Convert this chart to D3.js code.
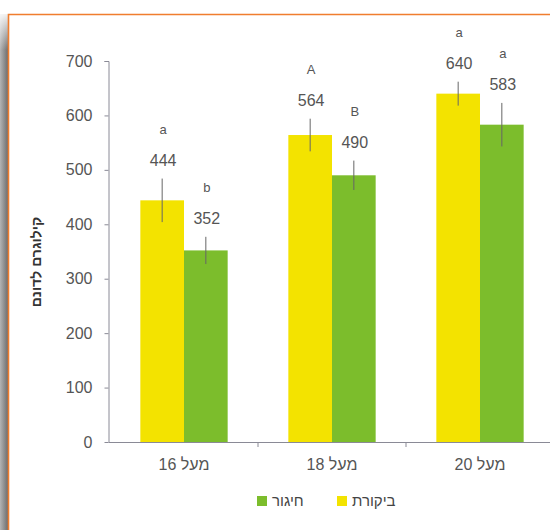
<!DOCTYPE html>
<html><head><meta charset="utf-8">
<script src="https://cdn.jsdelivr.net/npm/d3@7"></script>
<style>body{margin:0;background:#fff}svg{display:block}</style>
</head><body>
<script>
const categories = ["מעל 16", "מעל 18", "מעל 20"];
const seriesNames = ["ביקורת", "חיגור"];
const controlValues = [444, 564, 640];
const girdlingValues = [352, 490, 583];
const controlErrors = [40, 30, 22];
const girdlingErrors = [25, 27, 40];
const controlLetters = ["a", "A", "a"];
const girdlingLetters = ["b", "B", "a"];
const yTicks = [0, 100, 200, 300, 400, 500, 600, 700];
const yLabel = "קילוגרם לדונם";

const colors = {"ביקורת": "#f3e300", "חיגור": "#7cbd2c"};
const W = 550, H = 530;
const svg = d3.select("body").append("svg").attr("width", W).attr("height", H);

// frame shadow + orange border
const defs = svg.append("defs");
const g1 = defs.append("linearGradient").attr("id", "sh").attr("x1", 0).attr("x2", 1).attr("y1", 0).attr("y2", 0);
g1.append("stop").attr("offset", 0).attr("stop-color", "#b4b4b4");
g1.append("stop").attr("offset", 1).attr("stop-color", "#6c6c6c");
const g2 = defs.append("linearGradient").attr("id", "fade").attr("x1", 0).attr("x2", 0).attr("y1", 0).attr("y2", 1);
g2.append("stop").attr("offset", 0).attr("stop-color", "#fff").attr("stop-opacity", 1);
g2.append("stop").attr("offset", 1).attr("stop-color", "#fff").attr("stop-opacity", 0);
svg.append("rect").attr("x", 0).attr("y", 14).attr("width", 8).attr("height", H - 14).attr("fill", "url(#sh)");
svg.append("rect").attr("x", 0).attr("y", 10).attr("width", 8).attr("height", 40).attr("fill", "url(#fade)");
svg.append("path").attr("d", `M8.5,${H}V14.5H${W}`).attr("fill", "none").attr("stroke", "#f07d2e").attr("stroke-width", 1.6);

const x0 = d3.scaleBand().domain(categories).range([110, 554]).paddingInner(0.41).paddingOuter(0.205);
const x1 = d3.scaleBand().domain(seriesNames).range([0, x0.bandwidth()]);
const y = d3.scaleLinear().domain([0, 700]).range([442, 61]);

const rows = categories.map((c, i) => ({
  cat: c,
  bars: [
    {s: seriesNames[0], v: controlValues[i], e: controlErrors[i], l: controlLetters[i]},
    {s: seriesNames[1], v: girdlingValues[i], e: girdlingErrors[i], l: girdlingLetters[i]}
  ]
}));

const font = "'Liberation Sans', Arial, sans-serif";

// y axis
const yAxis = svg.append("g").attr("transform", "translate(108.5,0)")
  .call(d3.axisLeft(y).tickValues(yTicks).tickSize(4).tickPadding(12).tickFormat(d3.format("d")));
yAxis.select(".domain").attr("stroke", "#8a8a96").attr("d", `M-4,${y(700)}.5H0.5V${y(0)}`);
yAxis.selectAll(".tick line").attr("stroke", "#8a8a96");
yAxis.selectAll("text").attr("font-family", font).attr("font-size", 16).attr("fill", "#555");

// x axis
const xAxis = svg.append("g").attr("transform", `translate(0,${y(0)})`);
xAxis.append("line").attr("x1", 108.5).attr("x2", W).attr("y1", 0.5).attr("y2", 0.5).attr("stroke", "#8a8a96");
const bounds = categories.map(c => x0(c) - x0.step() * x0.paddingInner() / 2).slice(1);
xAxis.selectAll("line.tk").data(bounds).join("line").attr("class", "tk")
  .attr("x1", d => d).attr("x2", d => d).attr("y1", 0).attr("y2", 5).attr("stroke", "#8a8a96");
xAxis.selectAll("text").data(categories).join("text")
  .attr("x", d => x0(d) + x0.bandwidth() / 2).attr("y", 28)
  .attr("text-anchor", "middle").attr("font-family", font).attr("font-size", 16).attr("fill", "#555")
  .text(d => d);

// bars
const grp = svg.selectAll("g.grp").data(rows).join("g").attr("class", "grp")
  .attr("transform", d => `translate(${x0(d.cat)},0)`);
grp.selectAll("rect").data(d => d.bars).join("rect")
  .attr("x", d => x1(d.s)).attr("width", x1.bandwidth())
  .attr("y", d => y(d.v)).attr("height", d => y(0) - y(d.v))
  .attr("fill", d => colors[d.s]);
grp.selectAll("line.err").data(d => d.bars).join("line").attr("class", "err")
  .attr("x1", d => x1(d.s) + x1.bandwidth() / 2).attr("x2", d => x1(d.s) + x1.bandwidth() / 2)
  .attr("y1", d => y(d.v + d.e)).attr("y2", d => y(d.v - d.e))
  .attr("stroke", "#666").attr("stroke-width", 1);
grp.selectAll("text.val").data(d => d.bars).join("text").attr("class", "val")
  .attr("x", d => x1(d.s) + x1.bandwidth() / 2 + 1).attr("y", d => y(d.v + d.e) - 13)
  .attr("text-anchor", "middle").attr("font-family", font).attr("font-size", 16).attr("fill", "#555")
  .text(d => d.v);
grp.selectAll("text.let").data(d => d.bars).join("text").attr("class", "let")
  .attr("x", d => x1(d.s) + x1.bandwidth() / 2 + 1).attr("y", d => y(d.v + d.e) - 45)
  .attr("text-anchor", "middle").attr("font-family", font).attr("font-size", 13).attr("fill", "#555")
  .text(d => d.l);

// y label
svg.append("text").attr("transform", "translate(41,262) rotate(-90)")
  .attr("text-anchor", "middle").attr("font-family", font).attr("font-size", 14).attr("font-weight", "bold")
  .attr("fill", "#333").text(yLabel);

// legend
const legendItems = [{s: seriesNames[1], x: 257}, {s: seriesNames[0], x: 337}];
const lg = svg.selectAll("g.lg").data(legendItems).join("g").attr("class", "lg")
  .attr("transform", d => `translate(${d.x},496)`);
lg.append("rect").attr("width", 10).attr("height", 10).attr("fill", d => colors[d.s]);
lg.append("text").attr("x", 15).attr("y", 10).attr("font-family", font).attr("font-size", 15)
  .attr("fill", "#444").attr("text-anchor", "start").text(d => d.s);
</script>
</body></html>
